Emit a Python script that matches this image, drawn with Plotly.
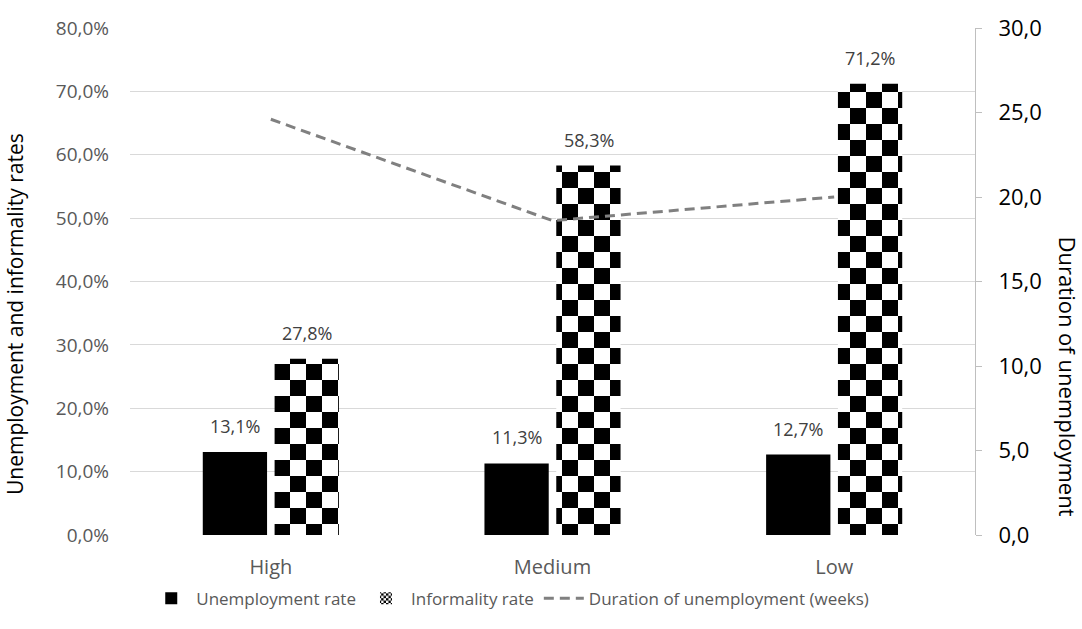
import plotly.graph_objects as go

# Education level categories
categories = ["High", "Medium", "Low"]

# Rates (fractions) and unemployment duration in weeks
unemployment_rate = [0.131, 0.113, 0.127]
informality_rate = [0.278, 0.583, 0.712]
duration_weeks = [24.6, 18.6, 20.0]

GRAY_TXT = "#595959"
LABEL_TXT = "#404040"
FONT = "Open Sans, Noto Sans, sans-serif"

# Checkerboard tile: two black 16px squares per 32px tile
checker_path = "M0,0H16V16H0ZM16,16H32V32H16Z"
# Finer checkerboard for the legend swatch
legend_checker_path = "M0,0H3V3H0ZM3,3H6V6H3Z"

BAR_SHIFT = 36  # px from category centre to each bar's centre

fig = go.Figure()

fig.add_trace(go.Bar(
    x=categories, y=unemployment_rate, name="Unemployment rate",
    marker=dict(color="#000000", line=dict(width=0)),
    hoverinfo="y",
))

fig.add_trace(go.Bar(
    x=categories, y=informality_rate, name="Informality rate",
    showlegend=False,
    marker=dict(
        color="#ffffff", line=dict(width=0),
        pattern=dict(path=checker_path, size=32, fgcolor="#000000",
                     bgcolor="#ffffff", fillmode="replace"),
    ),
    hoverinfo="y",
))

# Legend entry for the informality bars (empty trace on the overlay axis)
fig.add_trace(go.Bar(
    x=categories, y=[None] * len(categories), name="Informality rate",
    yaxis="y2",
    marker=dict(
        color="#ffffff", line=dict(width=0),
        pattern=dict(path=legend_checker_path, size=6, fgcolor="#000000",
                     bgcolor="#ffffff", fillmode="replace"),
    ),
))

fig.add_trace(go.Scatter(
    x=categories, y=duration_weeks, name="Duration of unemployment (weeks)",
    yaxis="y2", mode="lines",
    line=dict(color="#808080", width=3, dash="10px,6px"),
))

# Value labels above each bar
for cat, u, inf in zip(categories, unemployment_rate, informality_rate):
    for val, shift in ((u, -BAR_SHIFT), (inf, BAR_SHIFT)):
        fig.add_annotation(
            x=cat, y=val, xref="x", yref="y",
            text=f"{val * 100:.1f}%".replace(".", ","),
            showarrow=False, xshift=shift, yshift=12, yanchor="bottom",
            font=dict(size=18, color=LABEL_TXT, family=FONT),
        )

# Axis titles
fig.add_annotation(
    text="Unemployment and informality rates", xref="paper", yref="paper",
    x=-0.136, y=0.436, textangle=-90, showarrow=False,
    xanchor="center", yanchor="middle",
    font=dict(size=21, color="#000000", family=FONT),
)
fig.add_annotation(
    text="Duration of unemployment", xref="paper", yref="paper",
    x=1.110, y=0.3125, textangle=90, showarrow=False,
    xanchor="center", yanchor="middle",
    font=dict(size=22, color="#000000", family=FONT),
)

fig.update_layout(
    width=1082, height=629,
    margin=dict(l=130, r=107, t=24, b=93),
    paper_bgcolor="white", plot_bgcolor="white",
    separators=", ",
    font=dict(family=FONT, size=19, color=GRAY_TXT),
    barmode="group", bargap=0.49, bargroupgap=0.105,
    showlegend=True,
    legend=dict(orientation="h", x=0.45, xanchor="center", y=-0.09,
                yanchor="top", font=dict(size=17, color=GRAY_TXT),
                itemwidth=40, tracegroupgap=0),
    xaxis=dict(showgrid=False, showline=False, ticks="",
               ticklabelstandoff=18,
               tickfont=dict(size=20, color=GRAY_TXT)),
    yaxis=dict(range=[0, 0.8], dtick=0.1, tickformat=".1%",
               showgrid=True, gridcolor="#d9d9d9", gridwidth=1,
               zeroline=False, showline=False, ticks="",
               ticklabelstandoff=20,
               tickfont=dict(size=19, color=GRAY_TXT)),
    yaxis2=dict(range=[0, 30], dtick=5, tickformat=".1f",
                overlaying="y", side="right",
                showgrid=False, zeroline=False,
                showline=True, linecolor="#bfbfbf", linewidth=1,
                ticks="outside", ticklen=6, tickcolor="#bfbfbf",
                ticklabelstandoff=12,
                tickfont=dict(size=22, color="#000000")),
)

fig.write_html("out.html")
